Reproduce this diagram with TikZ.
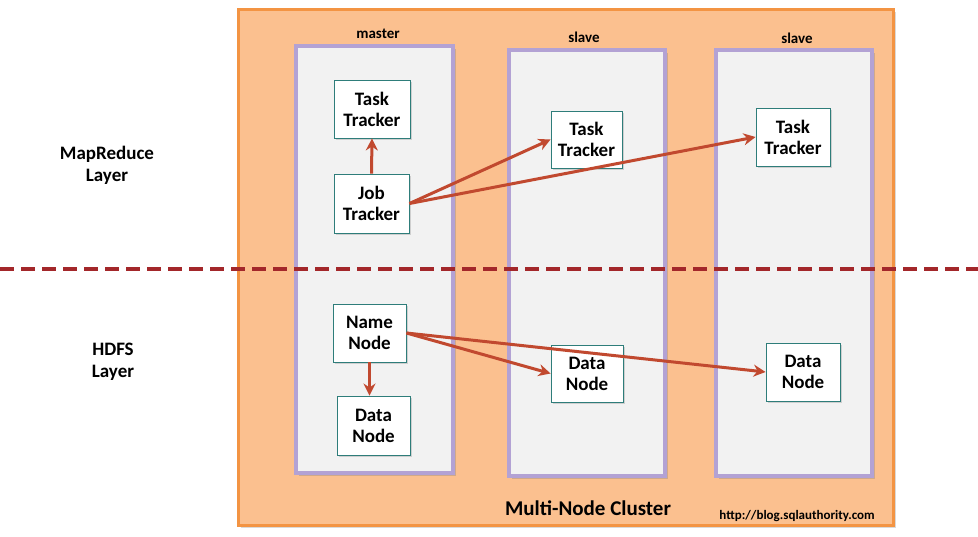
\documentclass[tikz,border=0pt]{standalone}
\usepackage{fontspec}
\setmainfont{Carlito}
\usetikzlibrary{arrows.meta,shadows}
\definecolor{orfill}{HTML}{FBC08F}
\definecolor{ordraw}{HTML}{F39443}
\definecolor{colfill}{HTML}{F2F2F2}
\definecolor{coldraw}{HTML}{B3A2D4}
\definecolor{boxdraw}{HTML}{2E7D7A}
\definecolor{arr}{HTML}{C1492F}
\definecolor{dashred}{HTML}{A3272A}
\begin{document}
\begin{tikzpicture}[x=1pt,y=-1pt,
  colbox/.style={draw=coldraw,fill=colfill,line width=3.5pt,drop shadow={opacity=0.35,shadow xshift=2.5pt,shadow yshift=-2.5pt}},
  tbox/.style={draw=boxdraw,fill=white,line width=0.9pt,align=center,font=\bfseries\fontsize{19}{21}\selectfont,inner sep=0pt,drop shadow={opacity=0.3,shadow xshift=2pt,shadow yshift=-2pt}},
  lbl/.style={font=\bfseries\fontsize{15}{16}\selectfont},
  side/.style={align=center,font=\bfseries\fontsize{19}{22}\selectfont},
  ar/.style={draw=arr,line width=3pt,-{Stealth[length=12pt,width=12pt]}}]
\useasboundingbox (0,0) rectangle (978,536);
\draw[draw=ordraw,fill=orfill,line width=3pt,drop shadow={opacity=0.3,shadow xshift=3pt,shadow yshift=-3pt}] (238,9) rectangle (893,525);
\path[colbox] (296,46) rectangle (453,473);
\path[colbox] (509,50) rectangle (665,476);
\path[colbox] (716,50) rectangle (872,476);
\node[lbl] (lm) at (378,34) {master};
\node[lbl] (ls1) at (584,37) {slave};
\node[lbl] (ls2) at (797,38) {slave};
\node[tbox,minimum width=76pt,minimum height=58pt] (tt0) at (372,109) {Task\\Tracker};
\node[tbox,minimum width=75pt,minimum height=59pt] (jt) at (371.5,203.5) {Job\\Tracker};
\node[tbox,minimum width=71pt,minimum height=57pt] (tt1) at (586.5,139.5) {Task\\Tracker};
\node[tbox,minimum width=74pt,minimum height=58pt] (tt2) at (793,137) {Task\\Tracker};
\node[tbox,minimum width=73pt,minimum height=58pt] (nn) at (369.5,333) {Name\\Node};
\node[tbox,minimum width=73pt,minimum height=59pt] (dn0) at (373.5,425.5) {Data\\Node};
\node[tbox,minimum width=72pt,minimum height=57pt] (dn1) at (587,373.5) {Data\\Node};
\node[tbox,minimum width=74pt,minimum height=58pt] (dn2) at (803,372) {Data\\Node};
\coordinate (d0) at (0,269);
\coordinate (d1) at (978,269);
\draw[dashred,line width=4pt,dash pattern=on 14pt off 7pt] (d0) -- (d1);
\node[side] (mr) at (107,165) {MapReduce\\Layer};
\node[side] (hd) at (113,362) {HDFS\\Layer};
\node[font=\bfseries\fontsize{21}{22}\selectfont] (mnc) at (588,508) {Multi-Node Cluster};
\node[font=\bfseries\fontsize{13}{14}\selectfont] (url) at (797,516) {http://blog.sqlauthority.com};
\draw[ar] (jt.north) -- (tt0.south);
\draw[ar] (jt.east) -- (tt1.west);
\draw[ar] (jt.east) -- (tt2.west);
\draw[ar] (nn.south) -- (nn.south |- dn0.north);
\draw[ar] (nn.east) -- (dn1.west);
\draw[ar] (nn.east) -- (dn2.west);
\end{tikzpicture}
\end{document}
